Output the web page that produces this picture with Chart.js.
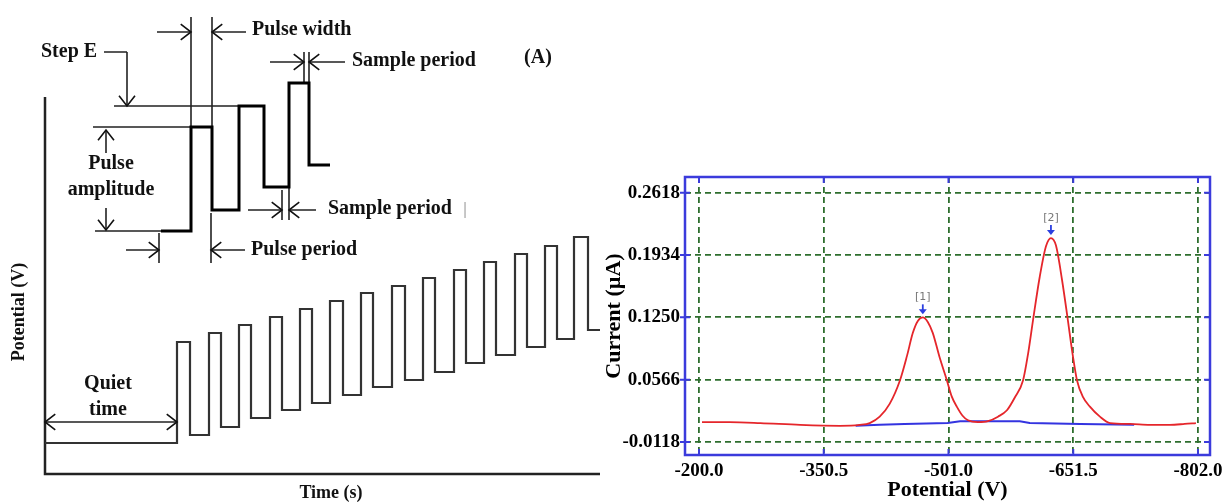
<!DOCTYPE html>
<html>
<head>
<meta charset="utf-8">
<title>DPV waveform and voltammogram</title>
<script src="https://cdn.jsdelivr.net/npm/chart.js@4.4.1/dist/chart.umd.min.js"></script>
<style>
  html, body { margin: 0; padding: 0; background: #fff; }
  #wrap { position: relative; width: 1228px; height: 502px; overflow: hidden; background: #fff; }
  canvas { position: absolute; top: 0; }
  #waveform { left: 0; }
  #dpv { left: 600px; }
</style>
</head>
<body>
<div id="wrap">
  <canvas id="waveform" width="615" height="502"></canvas>
  <canvas id="dpv" width="628" height="502"></canvas>
</div>
<script>
// ---- (A) pulse waveform, time in ms, potential in mV (arbitrary origin) ----
const quietLevel = 31;
const trainEnd = 555;
const pulseRise = [132, 164, 194, 225, 255, 285, 316, 347, 378, 409, 439, 470, 500, 529];
const pulseFall = [145, 176, 206, 237, 267, 298, 328, 360, 390, 421, 451, 482, 512, 543];
const pulseTop  = [132, 141, 149, 157, 165, 173, 181, 188, 196, 204, 212, 220, 228, 237];
const pulseBase = [39, 47, 56, 64, 71, 79, 87, 94, 102, 111, 119, 127, 135, 144];

// enlarged view of the first pulses
const detailTime  = [116, 146, 146, 167, 167, 194, 194, 219, 219, 244, 244, 264, 264, 285];
const detailLevel = [243, 243, 347, 347, 264, 264, 368, 368, 287, 287, 391, 391, 309, 309];

// axis frame of the waveform sketch
const frameTime  = [0, 0, 555];
const frameLevel = [377, 0, 0];

// extension / leader lines [t1, E1, t2, E2]
const guideLines = [
  [48, 347, 146, 347],
  [50, 243, 116, 243],
  [69, 368, 194, 368],
  [59, 422, 82, 422],
  [146, 457, 146, 347],
  [167, 457, 167, 347],
  [259, 422, 259, 392],
  [264, 422, 264, 391],
  [237, 284, 237, 254],
  [244, 287, 244, 254],
  [114, 241, 114, 211],
  [166, 261, 166, 211]
];
// dimension arrows [t1, E1, t2, E2], head on the second point
const dimArrows = [
  [61, 321, 61, 344],
  [61, 266, 61, 244],
  [82, 422, 82, 368],
  [112, 442, 146, 442],
  [201, 442, 167, 442],
  [225, 412, 259, 412],
  [300, 412, 264, 412],
  [203, 264, 237, 264],
  [271, 264, 244, 264],
  [81, 224, 114, 224],
  [200, 224, 166, 224],
  [66, 52, 0, 52],
  [66, 52, 132, 52]
];

// ---- (B) voltammogram ----
const xTicks = [-200.0, -350.5, -501.0, -651.5, -802.0];
const yTicks = [-0.0118, 0.0566, 0.1250, 0.1934, 0.2618];

const redPotential = [-203.6, -237, -274, -322, -370, -394, -406, -418, -430, -442.5,
  -451, -458, -464, -470, -476, -482, -490, -499, -505, -511,
  -518, -524.5, -536.5, -548.6, -560.7, -571.5, -581, -591, -597, -603,
  -611, -618.6, -624.6, -630.6, -638, -645, -651, -656, -663, -671.6,
  -683.7, -696, -720, -744, -768, -786, -799.5];
const redCurrent = [0.010, 0.010, 0.009, 0.007, 0.006, 0.007, 0.009, 0.016, 0.030, 0.056,
  0.083, 0.108, 0.121, 0.125, 0.120, 0.108, 0.082, 0.056, 0.038, 0.027,
  0.017, 0.012, 0.010, 0.011, 0.016, 0.023, 0.037, 0.056, 0.085, 0.122,
  0.169, 0.203, 0.212, 0.204, 0.166, 0.122, 0.083, 0.056, 0.038, 0.027,
  0.016, 0.009, 0.008, 0.007, 0.007, 0.008, 0.009];

const bluePotential = [-389, -418, -448, -500, -515, -587, -599, -660, -725];
const blueCurrent = [0.006, 0.007, 0.008, 0.009, 0.011, 0.011, 0.009, 0.008, 0.007];

const peakNames = ['[1]', '[2]'];
const peakPotential = [-470, -624.6];

const SERIF = '"Liberation Serif", "Times New Roman", serif';
Chart.defaults.font.family = SERIF;
Chart.defaults.color = '#000';

function zip(xs, ys) { return xs.map((x, i) => ({ x: x, y: ys[i] })); }

function segments(list) {
  const pts = [];
  list.forEach(([x1, y1, x2, y2]) => {
    pts.push({ x: x1, y: y1 }, { x: x2, y: y2 }, { x: x2, y: null });
  });
  return pts;
}

function pulseTrain() {
  const pts = [{ x: 0, y: quietLevel }];
  let level = quietLevel;
  pulseRise.forEach((t, i) => {
    pts.push({ x: t, y: level }, { x: t, y: pulseTop[i] },
             { x: pulseFall[i], y: pulseTop[i] }, { x: pulseFall[i], y: pulseBase[i] });
    level = pulseBase[i];
  });
  pts.push({ x: trainEnd, y: level });
  return pts;
}

// chevron heads on the dimension arrows
const arrowHeads = {
  id: 'arrowHeads',
  afterDatasetsDraw(chart) {
    const { ctx, scales: { x, y } } = chart;
    ctx.save();
    ctx.strokeStyle = '#111';
    ctx.lineWidth = 1.6;
    dimArrows.forEach(([x1, y1, x2, y2]) => {
      const ax = x.getPixelForValue(x1), ay = y.getPixelForValue(y1);
      const bx = x.getPixelForValue(x2), by = y.getPixelForValue(y2);
      const ang = Math.atan2(by - ay, bx - ax);
      const len = 13, spread = 0.66;
      ctx.beginPath();
      ctx.moveTo(bx - len * Math.cos(ang - spread), by - len * Math.sin(ang - spread));
      ctx.lineTo(bx, by);
      ctx.lineTo(bx - len * Math.cos(ang + spread), by - len * Math.sin(ang + spread));
      ctx.stroke();
    });
    ctx.restore();
  }
};

const waveText = {
  id: 'waveText',
  afterDraw(chart) {
    const ctx = chart.ctx;
    ctx.save();
    ctx.fillStyle = '#111';
    ctx.textBaseline = 'middle';
    ctx.font = 'bold 20px ' + SERIF;
    const put = (text, px, py, align) => { ctx.textAlign = align; ctx.fillText(text, px, py); };
    put('Step E', 41, 52, 'left');
    put('Pulse width', 252, 30, 'left');
    put('Sample period', 352, 61, 'left');
    put('(A)', 538, 58, 'center');
    put('Pulse', 111, 164, 'center');
    put('amplitude', 111, 190, 'center');
    put('Sample period', 328, 209, 'left');
    put('Pulse period', 251, 250, 'left');
    put('Quiet', 108, 384, 'center');
    put('time', 108, 410, 'center');
    ctx.font = 'bold 18px ' + SERIF;
    put('Time (s)', 331, 493, 'center');
    ctx.fillStyle = '#aaa';
    ctx.font = '15px "DejaVu Sans"';
    put('|', 465, 210, 'center');
    ctx.fillStyle = '#111';
    ctx.font = 'bold 18px ' + SERIF;
    ctx.translate(19, 312);
    ctx.rotate(-Math.PI / 2);
    put('Potential (V)', 0, 0, 'center');
    ctx.restore();
  }
};

new Chart(document.getElementById('waveform'), {
  type: 'line',
  data: {
    datasets: [
      { data: zip(detailTime, detailLevel), borderColor: '#000', borderWidth: 3 },
      { data: pulseTrain(), borderColor: '#333', borderWidth: 2.2 },
      { data: zip(frameTime, frameLevel), borderColor: '#222', borderWidth: 2.5 },
      { data: segments(guideLines), borderColor: '#222', borderWidth: 1.6, spanGaps: false },
      { data: segments(dimArrows), borderColor: '#222', borderWidth: 1.6, spanGaps: false }
    ]
  },
  options: {
    responsive: false,
    animation: false,
    devicePixelRatio: 1,
    layout: { padding: { left: 45, right: 15, top: 0, bottom: 28 } },
    elements: {
      point: { radius: 0 },
      line: { tension: 0, borderJoinStyle: 'miter', borderCapStyle: 'butt', fill: false }
    },
    datasets: { line: { clip: false } },
    plugins: { legend: { display: false }, tooltip: { enabled: false } },
    scales: {
      x: { type: 'linear', display: false, min: 0, max: 555 },
      y: { type: 'linear', display: false, min: 0, max: 474 }
    }
  },
  plugins: [arrowHeads, waveText]
});

// blue frame with inner tick stubs and the numbered peak markers
const dpvFrame = {
  id: 'dpvFrame',
  afterDraw(chart) {
    const { ctx, chartArea: a, scales: { x, y } } = chart;
    ctx.save();
    ctx.strokeStyle = '#3b3bdc';
    ctx.lineWidth = 2.5;
    ctx.strokeRect(a.left, a.top, a.right - a.left, a.bottom - a.top);
    ctx.lineWidth = 2;
    ctx.beginPath();
    xTicks.forEach(v => {
      const px = x.getPixelForValue(v);
      ctx.moveTo(px, a.top); ctx.lineTo(px, a.top + 6);
      ctx.moveTo(px, a.bottom); ctx.lineTo(px, a.bottom - 6);
    });
    yTicks.forEach(v => {
      const py = y.getPixelForValue(v);
      ctx.moveTo(a.left - 5, py); ctx.lineTo(a.left + 5, py);
      ctx.moveTo(a.right, py); ctx.lineTo(a.right - 6, py);
    });
    ctx.stroke();

    peakNames.forEach((name, k) => {
      const i = redPotential.indexOf(peakPotential[k]);
      const px = x.getPixelForValue(redPotential[i]);
      const py = y.getPixelForValue(redCurrent[i]);
      ctx.fillStyle = '#777';
      ctx.font = '11px "DejaVu Sans"';
      ctx.textAlign = 'center';
      ctx.textBaseline = 'middle';
      ctx.fillText(name, px, py - 20);
      ctx.strokeStyle = '#2b3fe0';
      ctx.fillStyle = '#2b3fe0';
      ctx.lineWidth = 1.8;
      ctx.beginPath();
      ctx.moveTo(px, py - 13); ctx.lineTo(px, py - 7);
      ctx.stroke();
      ctx.beginPath();
      ctx.moveTo(px - 4, py - 8); ctx.lineTo(px + 4, py - 8); ctx.lineTo(px, py - 3);
      ctx.closePath();
      ctx.fill();
    });
    ctx.restore();
  }
};

const tickFont = { family: SERIF, size: 19, weight: 'bold' };
const titleFont = { family: SERIF, size: 22, weight: 'bold', lineHeight: 1.1 };
const gridStyle = { color: '#2e6e2e', lineWidth: 1.8, drawTicks: false };

new Chart(document.getElementById('dpv'), {
  type: 'line',
  data: {
    datasets: [
      { label: 'DPV', data: zip(redPotential, redCurrent), borderColor: '#e5262b',
        borderWidth: 1.8, cubicInterpolationMode: 'monotone' },
      { label: 'Baseline', data: zip(bluePotential, blueCurrent), borderColor: '#3434e0',
        borderWidth: 2, tension: 0 }
    ]
  },
  options: {
    responsive: false,
    animation: false,
    devicePixelRatio: 1,
    layout: { padding: { left: 0, right: 18, top: 177, bottom: 0 } },
    elements: { point: { radius: 0 } },
    plugins: { legend: { display: false }, tooltip: { enabled: false } },
    scales: {
      x: {
        type: 'linear', reverse: true, min: -816.5, max: -183.1,
        afterBuildTicks: s => { s.ticks = xTicks.map(v => ({ value: v })); },
        afterFit: s => { s.height = 47; },
        grid: gridStyle,
        border: { display: false, dash: [6, 4] },
        ticks: { padding: 5, autoSkip: false, maxRotation: 0, font: tickFont,
                 callback: v => Number(v).toFixed(1) },
        title: { display: true, text: 'Potential (V)', font: titleFont, padding: 0 }
      },
      y: {
        type: 'linear', min: -0.02607, max: 0.27903,
        afterBuildTicks: s => { s.ticks = yTicks.map(v => ({ value: v })); },
        afterFit: s => { s.width = 85; },
        grid: gridStyle,
        border: { display: false, dash: [6, 4] },
        ticks: { padding: 5, autoSkip: false, font: tickFont,
                 callback: v => Number(v).toFixed(4) },
        title: { display: true, text: 'Current (µA)', font: { family: SERIF, size: 22, weight: 'bold' },
                 padding: { top: 1, bottom: 0 } }
      }
    }
  },
  plugins: [dpvFrame]
});
</script>
</body>
</html>
